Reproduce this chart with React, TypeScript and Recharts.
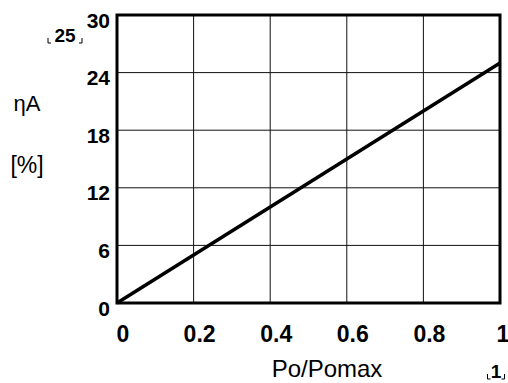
import React from 'react'
import { LineChart, Line, XAxis, YAxis, CartesianGrid, ReferenceArea, Customized } from 'recharts'

// relative power vs. efficiency, straight line from origin
const powerRatio = [0, 1]
const efficiency = [0, 25]
const xTicks = [0, 0.2, 0.4, 0.6, 0.8, 1]
const yTicks = [0, 6, 12, 18, 24, 30]

const data = powerRatio.map((p, i) => ({ p, eta: efficiency[i] }))

const FONT = '"Liberation Sans", Arial, sans-serif'

function YTick({ x, y, payload }: any) {
  return (
    <text x={x} y={y + 5} textAnchor="end" dominantBaseline="central" fontFamily={FONT} fontSize={21} fontWeight="bold" fill="#000">
      {payload.value}
    </text>
  )
}

function XTick({ x, y, payload }: any) {
  const dx = payload.value === 1 ? 3 : 6
  return (
    <text x={x + dx} y={y} textAnchor="middle" fontFamily={FONT} fontSize={23} fontWeight="bold" fill="#000">
      {payload.value}
    </text>
  )
}

// small bracketed value marker like ⌞25⌟
function Marked({ cx, base, w, text }: { cx: number; base: number; w: number; text: string }) {
  const l = cx - w / 2
  const r = cx + w / 2
  return (
    <g>
      <text x={cx} y={base} textAnchor="middle" fontFamily={FONT} fontSize={19} fontWeight="bold" fill="#000">{text}</text>
      <path d={`M${l} ${base - 4} V${base + 1} H${l + 3} M${r} ${base - 4} V${base + 1} H${r - 3}`} stroke="#000" strokeWidth={1} fill="none" />
    </g>
  )
}

function Annotations() {
  return (
    <g>
      <text x={27} y={111} textAnchor="middle" fontFamily={FONT} fontSize={22} fill="#000">ηA</text>
      <text x={27} y={173} textAnchor="middle" fontFamily={FONT} fontSize={23} fill="#000">[%]</text>
      <Marked cx={65} base={42} w={34} text="25" />
      <Marked cx={496} base={378} w={17} text="1" />
    </g>
  )
}

export default function App() {
  return (
    <div style={{ position: 'absolute', left: 0, top: 0, background: '#fff' }}>
      <LineChart width={508} height={383} data={data} margin={{ top: 15, right: 8, bottom: 50, left: 0 }}>
        <CartesianGrid stroke="#111" strokeWidth={1} horizontalValues={yTicks} verticalValues={xTicks} />
        <XAxis
          dataKey="p"
          type="number"
          domain={[0, 1]}
          ticks={xTicks}
          axisLine={false}
          tickLine={false}
          tickSize={0}
          tickMargin={39}
          height={30}
          tick={<XTick />}
          interval={0}
        />
        <YAxis
          type="number"
          domain={[0, 30]}
          ticks={yTicks}
          axisLine={false}
          tickLine={false}
          tickSize={0}
          tickMargin={7}
          width={117}
          tick={<YTick />}
          interval={0}
        />
        <ReferenceArea x1={0} x2={1} y1={0} y2={30} fill="none" stroke="#000" strokeWidth={3} ifOverflow="visible" />
        <Line dataKey="eta" stroke="#000" strokeWidth={3.5} dot={false} isAnimationActive={false} />
        <Customized component={Annotations} />
      </LineChart>
      <svg width={508} height={383} style={{ position: 'absolute', left: 0, top: 0, pointerEvents: 'none' }}>
        <text x={327} y={377} textAnchor="middle" fontFamily={FONT} fontSize={24} fill="#000">Po/Pomax</text>
      </svg>
    </div>
  )
}
